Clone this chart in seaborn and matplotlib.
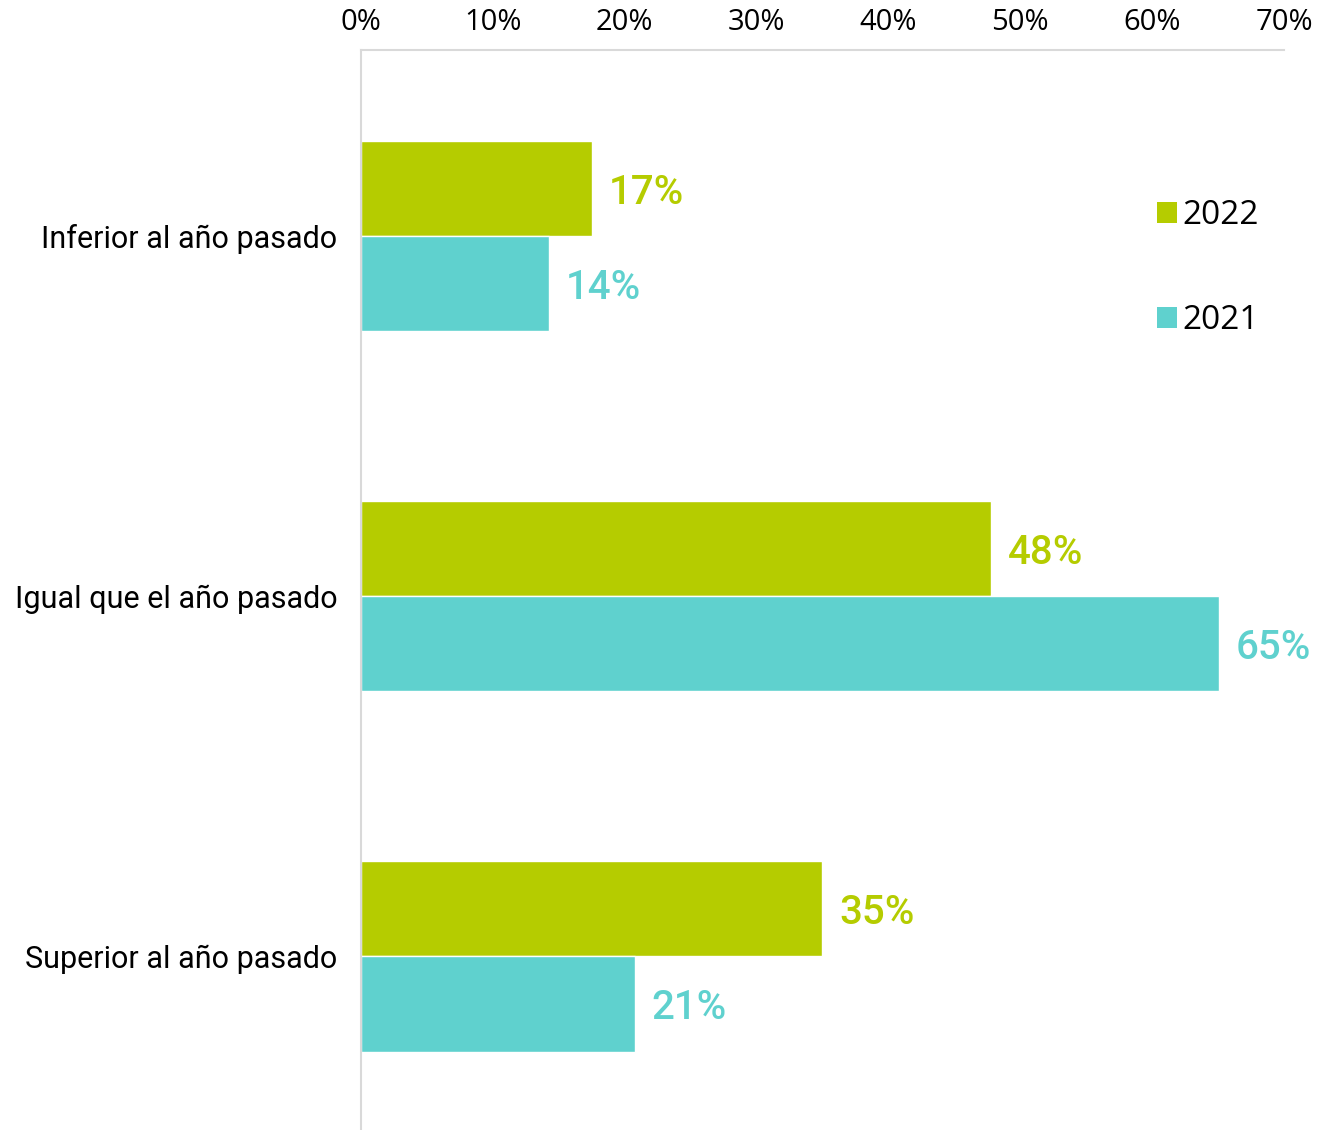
import matplotlib
matplotlib.use("Agg")
import matplotlib.pyplot as plt
from matplotlib.patches import Patch
import pandas as pd
import seaborn as sns

categories = ["Inferior al año pasado", "Igual que el año pasado", "Superior al año pasado"]
years = ["2022", "2021"]
values_2022 = [17.5, 47.8, 35.0]
values_2021 = [14.3, 65.1, 20.8]
labels_2022 = ["17%", "48%", "35%"]
labels_2021 = ["14%", "65%", "21%"]
ticks = [0, 10, 20, 30, 40, 50, 60, 70]

colors = {"2022": "#b5cc00", "2021": "#5fd1ce"}

df = pd.DataFrame({
    "cat": categories * 2,
    "year": ["2022"] * 3 + ["2021"] * 3,
    "val": values_2022 + values_2021,
})

sns.set_theme(style="white")
plt.rcParams["font.family"] = ["Roboto", "DejaVu Sans"]

fig = plt.figure(figsize=(13.17, 11.3), dpi=100)
ax = fig.add_axes([0.274, 0.0, 0.701, 0.9558])

sns.barplot(data=df, y="cat", x="val", hue="year", hue_order=years,
            palette=colors, orient="h", width=0.53, gap=0, saturation=1,
            order=categories, ax=ax, legend=False)

for cont, labs, yr in zip(ax.containers, [labels_2022, labels_2021], years):
    txts = ax.bar_label(cont, labels=labs, padding=12, color=colors[yr],
                        fontsize=29, fontweight="medium")
    for t in txts:
        t.xyann = (12, -3)

ax.set_xlim(0, 70)
ax.set_ylim(2.483, -0.517)
ax.set_xticks(ticks)
ax.set_xticklabels([f"{t}%" for t in ticks], fontsize=21, fontfamily="Open Sans")
ax.xaxis.tick_top()
ax.tick_params(axis="x", length=0, pad=9, colors="black")
ax.tick_params(axis="y", length=0, pad=17, labelsize=22, colors="black")
ax.set_xlabel("")
ax.set_ylabel("")

for s in ["bottom", "right"]:
    ax.spines[s].set_visible(False)
for s in ["top", "left"]:
    ax.spines[s].set_color("#d9d9d9")
    ax.spines[s].set_linewidth(1.5)

handles = [Patch(facecolor=colors[y], edgecolor="none") for y in years]
leg = fig.legend(handles, years, loc="upper left", bbox_to_anchor=(0.856, 0.85),
                 frameon=False, handlelength=0.6, handleheight=0.6,
                 handletextpad=0.15, labelspacing=2.15,
                 prop={"family": "Open Sans", "size": 24})
for t in leg.get_texts():
    t.set_color("black")

fig.savefig("out.png", dpi=100)
